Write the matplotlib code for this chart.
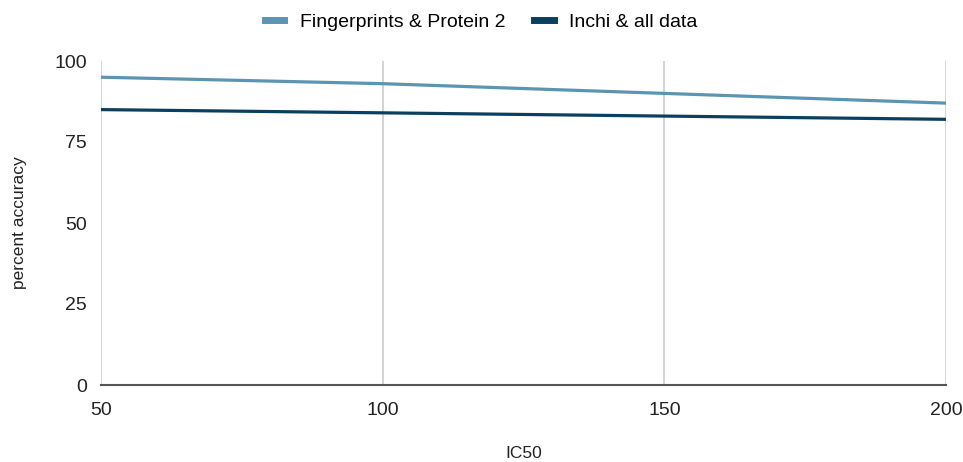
import matplotlib
matplotlib.use("Agg")
import matplotlib.pyplot as plt

plt.rcParams["font.family"] = ["Liberation Sans", "DejaVu Sans"]

ic50 = [50, 100, 150, 200]
fingerprints_protein2 = [95, 93, 90, 87]
inchi_all = [85, 84, 83, 82]

fig = plt.figure(figsize=(9.63, 4.62), dpi=100)
ax = fig.add_axes([101 / 963, 1 - 385 / 462, 845 / 963, 324 / 462])

ax.plot(ic50, fingerprints_protein2, color="#5b95b1", linewidth=2.3, label="Fingerprints & Protein 2")
ax.plot(ic50, inchi_all, color="#0b3f5f", linewidth=2.3, label="Inchi & all data")

ax.set_xlim(50, 200)
ax.set_ylim(0, 100)
ax.set_xticks([50, 100, 150, 200])
ax.set_yticks([0, 25, 50, 75, 100])
ax.grid(axis="x", color="#cccccc", linewidth=1.2)
ax.set_axisbelow(True)

for name in ["top", "right", "left"]:
    ax.spines[name].set_visible(False)
ax.spines["bottom"].set_color("#555555")
ax.spines["bottom"].set_linewidth(1.5)
ax.spines["bottom"].set_zorder(3)

ax.tick_params(length=0, labelsize=14, colors="#222222")
ax.tick_params(axis="x", pad=12)
ax.tick_params(axis="y", pad=10)

ax.set_xlabel("IC50", fontsize=12.5, color="#222222", labelpad=20)
ax.set_ylabel("percent accuracy", fontsize=12.5, color="#222222", labelpad=20)

ax.legend(loc="lower center", bbox_to_anchor=(0.45, 1.04), ncol=2, frameon=False,
          fontsize=14, handlelength=1.0, handleheight=0.5, handletextpad=0.8,
          columnspacing=1.5)
for line in ax.get_legend().get_lines():
    line.set_linewidth(5)

fig.savefig("out.png", dpi=100)
plt.close(fig)
